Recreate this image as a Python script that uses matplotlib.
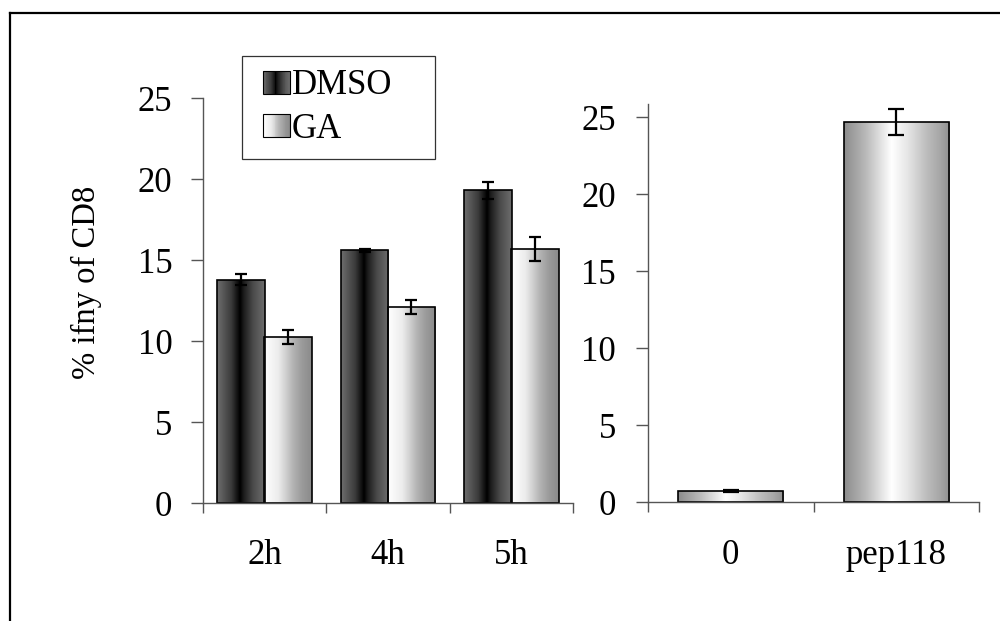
import numpy as np
import matplotlib
matplotlib.use("Agg")
import matplotlib.pyplot as plt
from matplotlib.colors import LinearSegmentedColormap
from matplotlib.legend_handler import HandlerBase
from matplotlib.patches import Rectangle
from matplotlib.lines import Line2D

# data
time_points = ["2h", "4h", "5h"]
dmso_vals = [13.8, 15.6, 19.3]
dmso_err = [0.35, 0.1, 0.55]
ga_vals = [10.25, 12.1, 15.7]
ga_err = [0.43, 0.43, 0.75]

ctrl_labels = ["0", "pep118"]
ctrl_vals = [0.73, 24.7]
ctrl_err = [0.06, 0.83]

SPINE = "#555555"
FONT = 25

DMSO_CMAP = LinearSegmentedColormap.from_list(
    "dmso", [(0.0, "#6e6e6e"), (0.3, "#3a3a3a"), (0.48, "#000000"), (0.56, "#1c1c1c"), (0.75, "#4a4a4a"), (1.0, "#6e6e6e")]
)
GA_CMAP = LinearSegmentedColormap.from_list(
    "ga", [(0.0, "#ffffff"), (0.3, "#ececec"), (0.5, "#c8c8c8"), (0.6, "#b4b4b4"), (0.8, "#9a9a9a"), (1.0, "#8a8a8a")]
)
CTRL_CMAP = LinearSegmentedColormap.from_list(
    "ctrl", [(0.0, "#8c8c8c"), (0.2, "#b8b8b8"), (0.45, "#ffffff"), (0.6, "#e6e6e6"), (0.78, "#bdbdbd"), (0.9, "#a8a8a8"), (1.0, "#909090")]
)

plt.rcParams.update({"font.family": "Liberation Serif", "font.size": FONT})


def gradient_bars(ax, bars, cmap):
    grad = np.linspace(0, 1, 256).reshape(1, -1)
    for bar in bars:
        x0, y0 = bar.get_x(), bar.get_y()
        w, h = bar.get_width(), bar.get_height()
        bar.set_facecolor("none")
        im = ax.imshow(grad, extent=[x0, x0 + w, y0, y0 + h], aspect="auto", cmap=cmap,
                       interpolation="bilinear", zorder=1.5, origin="lower")
        im.set_clip_path(bar)


def style_axes(ax, ymax, ytick_pad):
    for side in ("top", "right"):
        ax.spines[side].set_visible(False)
    for side in ("left", "bottom"):
        ax.spines[side].set_color(SPINE)
        ax.spines[side].set_linewidth(1.0)
    ax.set_ylim(0, ymax)
    ax.set_yticks([0, 5, 10, 15, 20, 25])
    ax.tick_params(axis="y", direction="out", length=9, width=1.0, color=SPINE, pad=ytick_pad, labelsize=FONT)
    ax.tick_params(axis="x", which="major", length=0, pad=26, labelsize=FONT)
    ax.tick_params(axis="x", which="minor", direction="out", length=7, width=1.0, color=SPINE)


class GradientHandler(HandlerBase):
    # draws a small gradient swatch at the right end of the handle area
    def __init__(self, cmap, swatch_w, swatch_h):
        super().__init__()
        self.cmap = cmap
        self.swatch_w = swatch_w
        self.swatch_h = swatch_h

    def create_artists(self, legend, orig_handle, xdescent, ydescent, width, height, fontsize, trans):
        sw = self.swatch_w * fontsize
        sh = self.swatch_h * fontsize
        x0 = -xdescent + width - sw
        y0 = -ydescent + (height - sh) / 2
        n = 30
        artists = []
        for i in range(n):
            c = self.cmap((i + 0.5) / n)
            artists.append(Rectangle((x0 + sw * i / n, y0), sw / n + 0.3, sh,
                                     facecolor=c, edgecolor="none", transform=trans))
        artists.append(Rectangle((x0, y0), sw, sh, facecolor="none",
                                 edgecolor="black", linewidth=0.8, transform=trans))
        return artists


fig = plt.figure(figsize=(10, 6.21), dpi=100)

# left panel
ax1 = fig.add_axes([0.203, 0.190, 0.370, 0.652])
x = np.arange(len(time_points))
bw = 0.385
err_kw = {"elinewidth": 1.6, "capthick": 1.6, "ecolor": "black"}
b1 = ax1.bar(x - 0.19, dmso_vals, bw, edgecolor="black", linewidth=1.2, zorder=2,
             yerr=dmso_err, capsize=4.5, error_kw=err_kw)
b2 = ax1.bar(x + 0.19, ga_vals, bw, edgecolor="black", linewidth=1.2, zorder=2,
             yerr=ga_err, capsize=4.5, error_kw=err_kw)
gradient_bars(ax1, b1.patches, DMSO_CMAP)
gradient_bars(ax1, b2.patches, GA_CMAP)
ax1.set_xlim(-0.5, len(time_points) - 0.5)
ax1.set_xticks(x, time_points)
ax1.set_xticks(np.arange(len(time_points) + 1) - 0.5, minor=True)
style_axes(ax1, 25, 13)

LEG_FONT = 25
handles = [Rectangle((0, 0), 1, 1), Rectangle((0, 0), 1, 1)]
leg = fig.legend(handles, ["DMSO", "GA"], loc="upper left",
                 bbox_to_anchor=(0.242, 1 - 156 / 621, 0.193, 100 / 621), mode="expand",
                 handler_map={handles[0]: GradientHandler(DMSO_CMAP, 0.78, 0.66),
                              handles[1]: GradientHandler(GA_CMAP, 0.78, 0.66)},
                 frameon=True, fancybox=False, edgecolor="black", fontsize=LEG_FONT,
                 handlelength=1.0, handleheight=0.7, handletextpad=0.05, labelspacing=0.3,
                 borderpad=0.38, borderaxespad=0)
leg.get_frame().set_linewidth(0.9)

fig.text(0.086, 1 - 282 / 621, "% ifny of CD8", rotation=90, ha="center", va="center", fontsize=23.5)

# right panel
ax2 = fig.add_axes([0.648, 0.191, 0.331, 0.641])
x2 = np.arange(len(ctrl_labels))
b3 = ax2.bar(x2, ctrl_vals, 0.635, edgecolor="black", linewidth=1.2, zorder=2,
             yerr=ctrl_err, capsize=6, error_kw=err_kw)
gradient_bars(ax2, b3.patches, CTRL_CMAP)
ax2.set_xlim(-0.5, len(ctrl_labels) - 0.5)
ax2.set_xticks(x2, ctrl_labels)
ax2.set_xticks(np.arange(len(ctrl_labels) + 1) - 0.5, minor=True)
style_axes(ax2, 25.84, 14)

# outer frame (top and left edges)
fig.add_artist(Line2D([10 / 1000, 10 / 1000], [0, 1 - 13 / 621], color="black", linewidth=1.6))
fig.add_artist(Line2D([10 / 1000, 1], [1 - 13 / 621, 1 - 13 / 621], color="black", linewidth=1.6))

fig.savefig("out.png", dpi=100)
